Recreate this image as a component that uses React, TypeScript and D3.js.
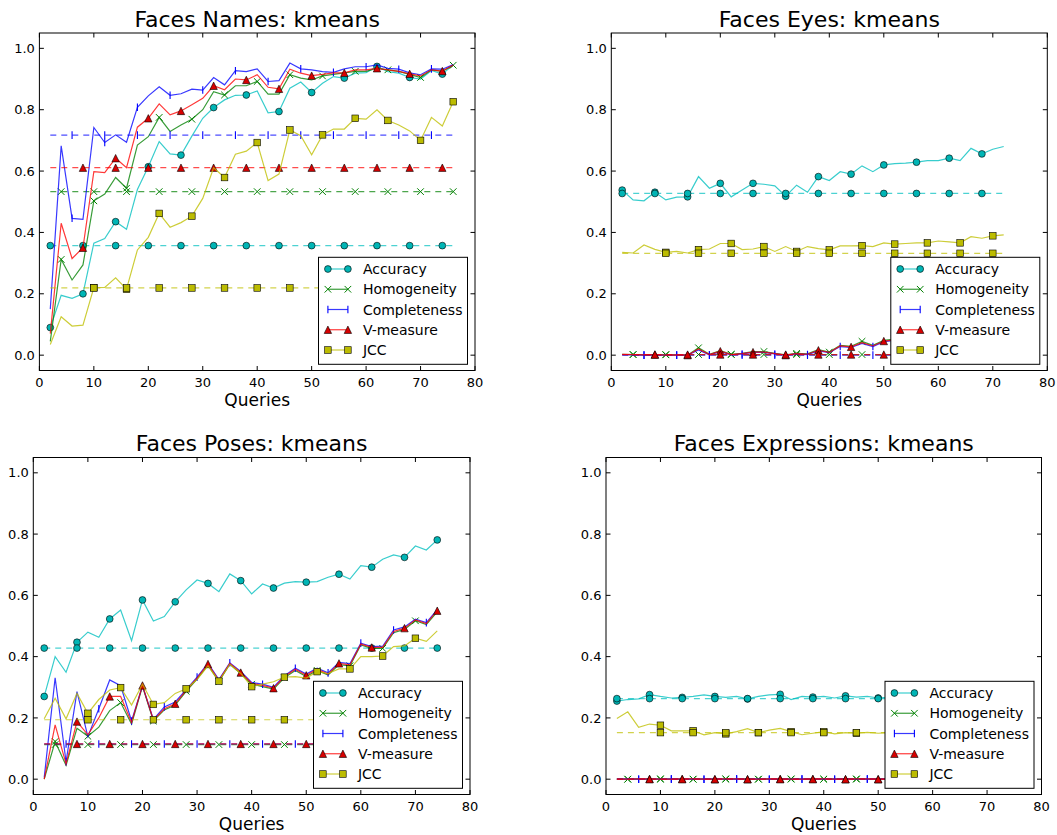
import React from 'react';
import * as d3 from 'd3';

const seriesNames = ['Accuracy', 'Homogeneity', 'Completeness', 'V-measure', 'JCC'];
const seriesColors = ['#00bfbf', '#008000', '#0000ff', '#ff0000', '#bfbf00'];
const markerFills = ['#00b5b5', '#008000', '#0000ff', '#d80000', '#bcbc00'];
const markerKinds = ['circle', 'x', 'vline', 'triangle', 'square'];
const xTicks = [0, 10, 20, 30, 40, 50, 60, 70, 80];
const yTicks = [0.0, 0.2, 0.4, 0.6, 0.8, 1.0];
const xLabel = 'Queries';

// ---------- Faces Names ----------
const namesQueries = [2, 4, 6, 8, 10, 12, 14, 16, 18, 20, 22, 24, 26, 28, 30, 32, 34, 36, 38, 40, 42, 44, 46, 48, 50, 52, 54, 56, 58, 60, 62, 64, 66, 68, 70, 72, 74, 76];
const namesAccuracy = [0.09, 0.195, 0.185, 0.2, 0.365, 0.38, 0.435, 0.41, 0.54, 0.614, 0.696, 0.656, 0.652, 0.714, 0.772, 0.807, 0.832, 0.847, 0.848, 0.861, 0.79, 0.794, 0.87, 0.89, 0.856, 0.886, 0.908, 0.903, 0.919, 0.921, 0.941, 0.924, 0.919, 0.905, 0.9, 0.928, 0.916, 0.946];
const namesHomogeneity = [0.045, 0.312, 0.245, 0.294, 0.503, 0.525, 0.579, 0.544, 0.685, 0.712, 0.775, 0.729, 0.75, 0.769, 0.8, 0.859, 0.848, 0.878, 0.878, 0.892, 0.851, 0.851, 0.914, 0.903, 0.897, 0.91, 0.915, 0.92, 0.925, 0.925, 0.935, 0.93, 0.925, 0.915, 0.905, 0.93, 0.925, 0.945];
const namesCompleteness = [0.15, 0.682, 0.446, 0.443, 0.742, 0.693, 0.718, 0.694, 0.808, 0.845, 0.875, 0.847, 0.852, 0.867, 0.864, 0.905, 0.881, 0.927, 0.924, 0.933, 0.892, 0.895, 0.952, 0.933, 0.93, 0.924, 0.922, 0.933, 0.94, 0.94, 0.946, 0.935, 0.932, 0.92, 0.914, 0.933, 0.932, 0.947];
const namesVMeasure = [0.07, 0.43, 0.315, 0.35, 0.598, 0.595, 0.642, 0.611, 0.743, 0.772, 0.819, 0.783, 0.796, 0.816, 0.837, 0.878, 0.865, 0.9, 0.897, 0.914, 0.873, 0.868, 0.932, 0.919, 0.911, 0.915, 0.92, 0.92, 0.93, 0.93, 0.935, 0.93, 0.925, 0.917, 0.91, 0.93, 0.926, 0.946];
const namesJCC = [0.035, 0.125, 0.095, 0.098, 0.22, 0.221, 0.252, 0.215, 0.343, 0.384, 0.462, 0.417, 0.432, 0.453, 0.511, 0.611, 0.579, 0.655, 0.665, 0.693, 0.569, 0.59, 0.734, 0.715, 0.653, 0.718, 0.737, 0.737, 0.772, 0.769, 0.8, 0.765, 0.75, 0.731, 0.7, 0.775, 0.747, 0.826];
const namesBaselines = [0.357, 0.533, 0.717, 0.611, 0.219];

// ---------- Faces Eyes ----------
const eyesQueries = [2, 4, 6, 8, 10, 12, 14, 16, 18, 20, 22, 24, 26, 28, 30, 32, 34, 36, 38, 40, 42, 44, 46, 48, 50, 52, 54, 56, 58, 60, 62, 64, 66, 68, 70, 72];
const eyesAccuracy = [0.538, 0.506, 0.503, 0.531, 0.506, 0.515, 0.516, 0.582, 0.544, 0.56, 0.516, 0.538, 0.56, 0.557, 0.552, 0.518, 0.554, 0.531, 0.582, 0.569, 0.598, 0.59, 0.617, 0.598, 0.62, 0.624, 0.626, 0.629, 0.634, 0.634, 0.642, 0.634, 0.674, 0.656, 0.671, 0.68];
const eyesHomogeneity = [0.003, 0.002, 0.001, 0.002, 0.001, 0.001, 0.0, 0.024, 0.003, 0.015, 0.003, 0.006, 0.012, 0.012, 0.006, 0.001, 0.006, 0.004, 0.018, 0.01, 0.032, 0.029, 0.045, 0.032, 0.048, 0.052, 0.05, 0.057, 0.062, 0.06, 0.067, 0.072, 0.07, 0.077, 0.082, 0.08];
const eyesCompleteness = [0.002, 0.001, 0.0, 0.001, 0.0, 0.0, 0.0, 0.017, 0.001, 0.011, 0.001, 0.004, 0.009, 0.009, 0.004, 0.0, 0.004, 0.002, 0.014, 0.008, 0.028, 0.025, 0.038, 0.028, 0.044, 0.048, 0.046, 0.053, 0.058, 0.056, 0.063, 0.068, 0.066, 0.073, 0.078, 0.076];
const eyesVMeasure = [0.003, 0.002, 0.001, 0.002, 0.0, 0.001, 0.0, 0.02, 0.002, 0.013, 0.002, 0.005, 0.01, 0.01, 0.005, 0.0, 0.005, 0.003, 0.016, 0.009, 0.03, 0.027, 0.041, 0.03, 0.046, 0.05, 0.048, 0.055, 0.06, 0.058, 0.065, 0.07, 0.068, 0.075, 0.08, 0.078];
const eyesJCC = [0.335, 0.333, 0.359, 0.345, 0.335, 0.338, 0.333, 0.344, 0.346, 0.364, 0.364, 0.344, 0.346, 0.354, 0.338, 0.354, 0.338, 0.354, 0.347, 0.343, 0.356, 0.356, 0.357, 0.354, 0.366, 0.362, 0.364, 0.366, 0.366, 0.372, 0.369, 0.366, 0.386, 0.381, 0.389, 0.392];
const eyesBaselines = [0.527, 0.002, 0.0, 0.002, 0.332];

// ---------- Faces Poses ----------
const posesQueries = [2, 4, 6, 8, 10, 12, 14, 16, 18, 20, 22, 24, 26, 28, 30, 32, 34, 36, 38, 40, 42, 44, 46, 48, 50, 52, 54, 56, 58, 60, 62, 64, 66, 68, 70, 72, 74];
const posesAccuracy = [0.27, 0.4, 0.349, 0.447, 0.48, 0.463, 0.523, 0.552, 0.452, 0.585, 0.516, 0.531, 0.579, 0.618, 0.65, 0.639, 0.612, 0.67, 0.648, 0.605, 0.637, 0.624, 0.64, 0.645, 0.643, 0.645, 0.659, 0.669, 0.653, 0.697, 0.692, 0.718, 0.732, 0.724, 0.761, 0.748, 0.781];
const posesHomogeneity = [0.0, 0.123, 0.045, 0.166, 0.14, 0.17, 0.224, 0.25, 0.18, 0.303, 0.19, 0.226, 0.242, 0.287, 0.327, 0.372, 0.318, 0.375, 0.345, 0.31, 0.302, 0.294, 0.331, 0.355, 0.335, 0.355, 0.34, 0.374, 0.37, 0.438, 0.427, 0.427, 0.478, 0.489, 0.517, 0.505, 0.546];
const posesCompleteness = [0.005, 0.331, 0.057, 0.286, 0.139, 0.23, 0.324, 0.305, 0.19, 0.305, 0.195, 0.236, 0.252, 0.292, 0.333, 0.378, 0.325, 0.38, 0.352, 0.316, 0.31, 0.3, 0.338, 0.362, 0.343, 0.362, 0.347, 0.381, 0.377, 0.444, 0.433, 0.434, 0.487, 0.497, 0.522, 0.511, 0.553];
const posesVMeasure = [0.0, 0.177, 0.05, 0.188, 0.145, 0.2, 0.27, 0.27, 0.185, 0.306, 0.193, 0.23, 0.246, 0.29, 0.33, 0.376, 0.322, 0.378, 0.348, 0.313, 0.306, 0.297, 0.335, 0.359, 0.339, 0.359, 0.343, 0.378, 0.373, 0.441, 0.43, 0.43, 0.482, 0.493, 0.52, 0.508, 0.55];
const posesJCC = [0.197, 0.264, 0.197, 0.28, 0.215, 0.26, 0.291, 0.299, 0.242, 0.31, 0.244, 0.25, 0.28, 0.295, 0.325, 0.37, 0.32, 0.375, 0.345, 0.302, 0.31, 0.318, 0.333, 0.335, 0.33, 0.351, 0.345, 0.36, 0.36, 0.4, 0.4, 0.402, 0.433, 0.435, 0.46, 0.45, 0.484];
const posesBaselines = [0.428, 0.113, 0.115, 0.115, 0.194];

// ---------- Faces Expressions ----------
const exprQueries = [2, 4, 6, 8, 10, 12, 14, 16, 18, 20, 22, 24, 26, 28, 30, 32, 34, 36, 38, 40, 42, 44, 46, 48, 50, 52, 54, 56, 58, 60, 62, 64, 66, 68, 70];
const exprAccuracy = [0.255, 0.26, 0.262, 0.276, 0.27, 0.265, 0.267, 0.27, 0.275, 0.27, 0.267, 0.27, 0.262, 0.27, 0.275, 0.277, 0.26, 0.27, 0.268, 0.27, 0.265, 0.272, 0.268, 0.27, 0.265, 0.268, 0.27, 0.266, 0.272, 0.27, 0.268, 0.271, 0.27, 0.269, 0.27];
const exprHomogeneity = [0.001, 0.0, 0.001, 0.0, 0.001, 0.0, 0.001, 0.0, 0.001, 0.0, 0.001, 0.0, 0.001, 0.0, 0.001, 0.0, 0.001, 0.0, 0.001, 0.0, 0.001, 0.0, 0.001, 0.0, 0.001, 0.0, 0.001, 0.0, 0.001, 0.0, 0.001, 0.0, 0.001, 0.0, 0.001];
const exprCompleteness = [0.0, 0.001, 0.0, 0.001, 0.0, 0.001, 0.0, 0.001, 0.0, 0.001, 0.0, 0.001, 0.0, 0.001, 0.0, 0.001, 0.0, 0.001, 0.0, 0.001, 0.0, 0.001, 0.0, 0.001, 0.0, 0.001, 0.0, 0.001, 0.0, 0.001, 0.0, 0.001, 0.0, 0.001, 0.0];
const exprVMeasure = [0.0, 0.0, 0.001, 0.001, 0.0, 0.0, 0.001, 0.001, 0.0, 0.0, 0.001, 0.001, 0.0, 0.0, 0.001, 0.001, 0.0, 0.0, 0.001, 0.001, 0.0, 0.0, 0.001, 0.001, 0.0, 0.0, 0.001, 0.001, 0.0, 0.0, 0.001, 0.001, 0.0, 0.0, 0.001];
const exprJCC = [0.198, 0.22, 0.169, 0.18, 0.176, 0.158, 0.158, 0.158, 0.145, 0.152, 0.148, 0.155, 0.165, 0.152, 0.16, 0.166, 0.155, 0.145, 0.15, 0.155, 0.148, 0.152, 0.15, 0.153, 0.15, 0.152, 0.15, 0.151, 0.153, 0.15, 0.152, 0.151, 0.15, 0.152, 0.151];
const exprBaselines = [0.263, 0.0, 0.0, 0.0, 0.152];

type Box = { left: number; right: number; top: number; bottom: number };

const FONT = '"DejaVu Sans", "Liberation Sans", sans-serif';

function Marker({ kind, cx, cy, i }: { kind: string; cx: number; cy: number; i: number }) {
  const color = seriesColors[i];
  const fill = markerFills[i];
  if (kind === 'circle') {
    return <circle cx={cx} cy={cy} r={3.4} fill={fill} stroke="#000" strokeWidth={0.6} />;
  }
  if (kind === 'square') {
    return <rect x={cx - 3.3} y={cy - 3.3} width={6.6} height={6.6} fill={fill} stroke="#000" strokeWidth={0.6} />;
  }
  if (kind === 'triangle') {
    const h = 3.7;
    return <path d={`M${cx},${cy - h}L${cx + h},${cy + h}L${cx - h},${cy + h}Z`} fill={fill} stroke="#000" strokeWidth={0.6} />;
  }
  if (kind === 'x') {
    const h = 3.3;
    return <path d={`M${cx - h},${cy - h}L${cx + h},${cy + h}M${cx - h},${cy + h}L${cx + h},${cy - h}`} stroke={color} strokeWidth={1} fill="none" />;
  }
  const h = 3.8;
  return <path d={`M${cx},${cy - h}L${cx},${cy + h}`} stroke={color} strokeWidth={1.1} fill="none" />;
}

function Panel({ id, title, box, queries, series, baselines }: { id: string; title: string; box: Box; queries: number[]; series: number[][]; baselines: number[] }) {
  const x = d3.scaleLinear().domain([0, 80]).range([box.left, box.right]);
  const y = d3.scaleLinear().domain([-0.05, 1.05]).range([box.bottom, box.top]);
  const line = d3.line<number>().x((_, k) => x(queries[k])).y((d) => y(d));
  const tick = 4.5;
  const legW = 149;
  const legH = 107;
  const legX = box.right - 7.5 - legW;
  const legY = box.bottom - 6.2 - legH;
  const cx = (box.left + box.right) / 2;
  return (
    <g>
      <defs>
        <clipPath id={`clip-${id}`}>
          <rect x={box.left} y={box.top} width={box.right - box.left} height={box.bottom - box.top} />
        </clipPath>
      </defs>
      <g clipPath={`url(#clip-${id})`}>
        {series.map((vals, i) => {
          const baseVals = queries.map(() => baselines[i]);
          const solidMarks = vals.map((v, k) => ({ v, k })).filter(({ k }) => k >= i && (k - i) % 3 === 0);
          return (
            <g key={i}>
              <path d={line(vals) || ''} fill="none" stroke={seriesColors[i]} strokeOpacity={0.78} strokeWidth={1.2} />
              {solidMarks.map(({ v, k }) => (
                <Marker key={`s${k}`} kind={markerKinds[i]} cx={x(queries[k])} cy={y(v)} i={i} />
              ))}
              <path d={line(baseVals) || ''} fill="none" stroke={seriesColors[i]} strokeOpacity={0.7} strokeWidth={1.2} strokeDasharray="6,5" />
              {solidMarks.map(({ k }) => (
                <Marker key={`d${k}`} kind={markerKinds[i]} cx={x(queries[k])} cy={y(baselines[i])} i={i} />
              ))}
            </g>
          );
        })}
      </g>
      <rect x={box.left} y={box.top} width={box.right - box.left} height={box.bottom - box.top} fill="none" stroke="#000" strokeWidth={1} />
      {xTicks.map((t) => (
        <g key={`xt${t}`}>
          <line x1={x(t)} x2={x(t)} y1={box.bottom} y2={box.bottom - tick} stroke="#000" strokeWidth={1} />
          <line x1={x(t)} x2={x(t)} y1={box.top} y2={box.top + tick} stroke="#000" strokeWidth={1} />
          <text x={x(t)} y={box.bottom + 16.5} textAnchor="middle" fontFamily={FONT} fontSize={13} fill="#000">{t}</text>
        </g>
      ))}
      {yTicks.map((t) => (
        <g key={`yt${t}`}>
          <line x1={box.left} x2={box.left + tick} y1={y(t)} y2={y(t)} stroke="#000" strokeWidth={1} />
          <line x1={box.right} x2={box.right - tick} y1={y(t)} y2={y(t)} stroke="#000" strokeWidth={1} />
          <text x={box.left - 4.5} y={y(t)} dy="0.36em" textAnchor="end" fontFamily={FONT} fontSize={13} fill="#000">{t.toFixed(1)}</text>
        </g>
      ))}
      <text x={cx} y={box.top - 6.5} textAnchor="middle" fontFamily={FONT} fontSize={22} fill="#000">{title}</text>
      <text x={cx} y={box.bottom + 35.5} textAnchor="middle" fontFamily={FONT} fontSize={17} fill="#000">{xLabel}</text>
      <g>
        <rect x={legX} y={legY} width={legW} height={legH} fill="#fff" stroke="#000" strokeWidth={1} />
        {seriesNames.map((name, i) => {
          const ry = legY + 11.7 + i * 20.25;
          const x0 = legX + 9.4;
          const x1 = legX + 29.4;
          return (
            <g key={name}>
              <line x1={x0} x2={x1} y1={ry} y2={ry} stroke={seriesColors[i]} strokeOpacity={0.78} strokeWidth={1.2} />
              <Marker kind={markerKinds[i]} cx={x0} cy={ry} i={i} />
              <Marker kind={markerKinds[i]} cx={x1} cy={ry} i={i} />
              <text x={legX + 44.4} y={ry} dy="0.36em" fontFamily={FONT} fontSize={14} fill="#000">{name}</text>
            </g>
          );
        })}
      </g>
    </g>
  );
}

export default function App() {
  return (
    <svg width={1057} height={835} style={{ position: 'absolute', left: 0, top: 0, background: '#fff' }}>
      <rect x={0} y={0} width={1057} height={835} fill="#fff" />
      <Panel id="names" title="Faces Names: kmeans" box={{ left: 39.4, right: 475, top: 33, bottom: 370.5 }} queries={namesQueries}
        series={[namesAccuracy, namesHomogeneity, namesCompleteness, namesVMeasure, namesJCC]} baselines={namesBaselines} />
      <Panel id="eyes" title="Faces Eyes: kmeans" box={{ left: 611.3, right: 1047.3, top: 33, bottom: 370.5 }} queries={eyesQueries}
        series={[eyesAccuracy, eyesHomogeneity, eyesCompleteness, eyesVMeasure, eyesJCC]} baselines={eyesBaselines} />
      <Panel id="poses" title="Faces Poses: kmeans" box={{ left: 33.3, right: 470, top: 457.5, bottom: 794.5 }} queries={posesQueries}
        series={[posesAccuracy, posesHomogeneity, posesCompleteness, posesVMeasure, posesJCC]} baselines={posesBaselines} />
      <Panel id="expr" title="Faces Expressions: kmeans" box={{ left: 606, right: 1041.5, top: 457.5, bottom: 794.5 }} queries={exprQueries}
        series={[exprAccuracy, exprHomogeneity, exprCompleteness, exprVMeasure, exprJCC]} baselines={exprBaselines} />
    </svg>
  );
}
